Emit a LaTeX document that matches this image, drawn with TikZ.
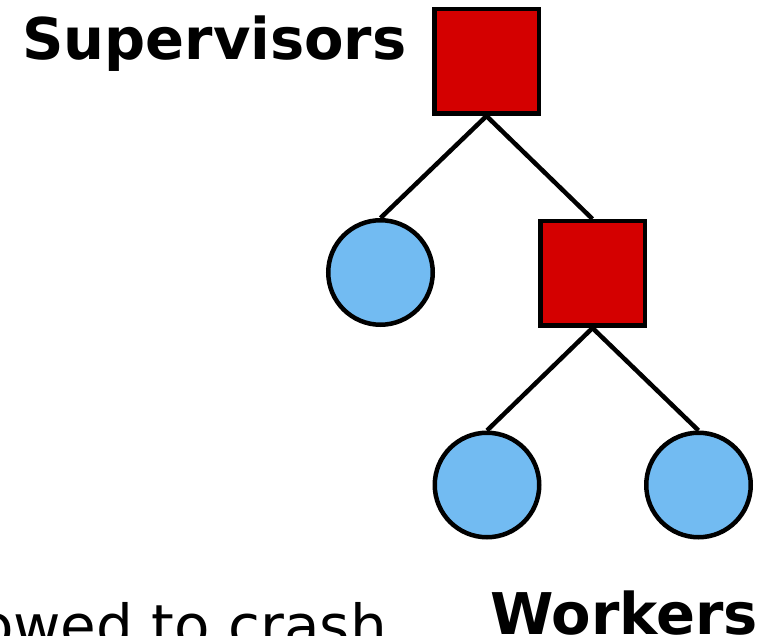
\documentclass[tikz,border=0pt]{standalone}
\usepackage{fontspec}
\setmainfont{DejaVu Sans}
\definecolor{supred}{RGB}{212,0,0}
\definecolor{workblue}{RGB}{114,187,242}
\begin{document}
\begin{tikzpicture}[x=1pt,y=-1pt,
  supervisor/.style={draw=black,line width=4.5pt,fill=supred,minimum size=104.5pt,inner sep=0pt,shape=rectangle},
  worker/.style={draw=black,line width=4.5pt,fill=workblue,circle,minimum size=104.5pt,inner sep=0pt},
  link/.style={draw=black,line width=4.5pt},
  heading/.style={font=\bfseries\fontsize{57.5}{60}\selectfont,inner sep=0pt},
  caption/.style={font=\fontsize{58}{60}\selectfont,inner sep=0pt}]
  \useasboundingbox (0,0) rectangle (780,636);
  \clip (0,0) rectangle (780,636);

  % tree of supervisors and workers
  \node[supervisor] (s1) at (486.5,61.5) {};
  \node[worker]     (w1) at (380.5,272.5) {};
  \node[supervisor] (s2) at (592.5,273.5) {};
  \node[worker]     (w2) at (487,485) {};
  \node[worker]     (w3) at (698.5,485) {};

  \draw[link] (s1.south) -- (w1.north);
  \draw[link] (s1.south) -- (s2.north);
  \draw[link] (s2.south) -- (w2.north);
  \draw[link] (s2.south) -- (w3.north);

  % labels
  \node[heading,anchor=base west] (sup) at (22,60) {Supervisors};
  \node[heading,anchor=base west] (wrk) at (490,634) {Workers};
  \node[caption,anchor=base east] (crash) at (387,646) {allowed to crash};
\end{tikzpicture}
\end{document}
